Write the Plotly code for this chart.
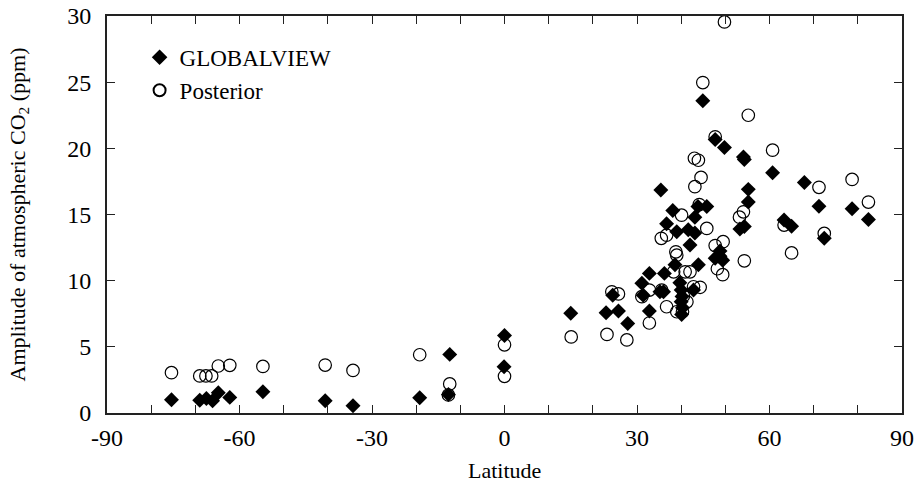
import plotly.graph_objects as go

# GLOBALVIEW observations (latitude, amplitude ppm)
gv_lat = [-75.4, -69.0, -67.5, -66.1, -64.8, -62.2, -54.7, -40.6, -34.3, -19.2, -12.4, -12.7, 0.0, -0.1, 15.0,
          23.0, 24.5, 25.8, 27.9, 31.1, 31.4, 32.8, 32.8, 35.2, 36.0, 35.4, 36.2, 36.7, 38.1, 38.6, 39.0,
          39.7, 40.0, 40.2, 40.0, 40.1, 40.3, 41.6, 42.0, 42.8, 43.1, 43.1, 43.9, 43.8, 45.8, 44.9, 47.7,
          48.8, 48.8, 47.7, 49.4, 49.8, 53.3, 54.1, 54.3, 54.3, 55.2, 55.2, 60.7, 63.3, 65.0, 67.9, 71.2,
          72.4, 78.7, 82.4]
gv_amp = [1.0, 0.97, 1.1, 0.93, 1.53, 1.18, 1.6, 0.93, 0.55, 1.15, 4.43, 1.4, 5.85, 3.5, 7.53,
          7.58, 8.9, 7.7, 6.77, 9.8, 8.9, 10.55, 7.7, 9.16, 9.16, 16.85, 10.55, 14.3, 15.3, 11.2, 13.7,
          9.85, 9.3, 8.8, 8.4, 7.45, 7.95, 13.85, 12.7, 9.3, 13.6, 14.8, 11.2, 15.6, 15.6, 23.6, 20.67,
          12.25, 11.85, 11.7, 11.55, 20.07, 13.9, 19.35, 19.15, 14.1, 16.9, 15.95, 18.15, 14.58, 14.12, 17.42, 15.63,
          13.2, 15.43, 14.63]

# Posterior estimates
post_lat = [-75.4, -69.0, -67.6, -66.3, -64.8, -62.2, -54.7, -40.6, -34.3, -19.2, -12.4, -12.7, 0.0, 0.0, 15.1,
            23.2, 24.3, 25.8, 27.7, 31.1, 32.8, 32.8, 35.6, 35.5, 36.7, 36.7, 38.3, 38.8, 39.0, 39.0,
            40.3, 40.1, 41.3, 40.5, 40.9, 42.0, 42.8, 44.3, 43.0, 43.9, 44.5, 43.1, 44.1, 44.9, 45.8,
            47.7, 47.7, 49.5, 48.2, 49.4, 49.8, 53.2, 54.1, 54.3, 55.2, 60.7, 63.3, 65.0, 71.2, 72.4,
            78.7, 82.4]
post_amp = [3.05, 2.8, 2.8, 2.8, 3.55, 3.6, 3.52, 3.62, 3.22, 4.4, 2.2, 1.36, 5.15, 2.77, 5.75,
            5.94, 9.16, 9.0, 5.52, 8.79, 9.29, 6.8, 9.29, 13.2, 13.44, 8.03, 10.67, 12.18, 11.93, 7.65,
            7.65, 14.95, 8.4, 8.85, 10.67, 10.67, 9.54, 9.5, 19.25, 19.1, 17.8, 17.1, 15.75, 24.97, 13.95,
            20.87, 12.65, 12.95, 10.9, 10.45, 29.55, 14.8, 15.2, 11.5, 22.5, 19.86, 14.2, 12.1, 17.05, 13.57,
            17.65, 15.94]

x_tickvals = [-90, -60, -30, 0, 30, 60, 90]
x_ticktext = ["-90", "-60", "-30", "0", "30", "60", "90"]
y_tickvals = [0, 5, 10, 15, 20, 25, 30]
x_title = "Latitude"
y_title = "Amplitude of atmospheric CO<sub>2</sub> (ppm)"

FONT = "Liberation Serif, Times New Roman, serif"

fig = go.Figure()
fig.add_trace(go.Scatter(
    x=gv_lat, y=gv_amp, mode="markers", name="GLOBALVIEW",
    marker=dict(symbol="diamond", size=11.5, color="black", line=dict(width=0)),
    cliponaxis=False,
))
fig.add_trace(go.Scatter(
    x=post_lat, y=post_amp, mode="markers", name="Posterior",
    marker=dict(symbol="circle-open", size=12.5, color="black", line=dict(width=1.2, color="black")),
    cliponaxis=False,
))

axis_common = dict(
    showline=True, linecolor="#222", linewidth=1.8, mirror="ticks",
    ticks="inside", ticklen=8, tickwidth=1.2, tickcolor="#222",
    showgrid=False, zeroline=False, automargin=False,
    tickfont=dict(family=FONT, size=24, color="black"),
)

fig.update_layout(
    width=918, height=485,
    margin=dict(l=107, r=16, t=16, b=72),
    paper_bgcolor="white", plot_bgcolor="white",
    font=dict(family=FONT, color="black"),
    showlegend=True,
    legend=dict(
        x=0.041, y=0.95, xanchor="left", yanchor="top",
        bgcolor="rgba(0,0,0,0)", borderwidth=0,
        font=dict(family=FONT, size=23, color="black"),
        itemsizing="constant", tracegroupgap=0,
    ),
    xaxis=dict(
        range=[-90, 90], tickmode="array", tickvals=x_tickvals, ticktext=x_ticktext,
        minor=dict(dtick=10, tick0=0, ticks="inside", ticklen=8, tickwidth=1.2, tickcolor="#222", showgrid=False),
        ticklabelstandoff=2,
        **axis_common,
    ),
    yaxis=dict(
        range=[0, 30], tickmode="array", tickvals=y_tickvals,
        title=dict(text=y_title, font=dict(family=FONT, size=22, color="black"), standoff=36),
        ticklabelstandoff=9,
        **axis_common,
    ),
    annotations=[dict(
        text=x_title, xref="paper", yref="paper", x=0.5, y=-0.1436,
        xanchor="center", yanchor="middle", showarrow=False,
        font=dict(family=FONT, size=22, color="black"),
    )],
)

fig.write_html("out.html")
